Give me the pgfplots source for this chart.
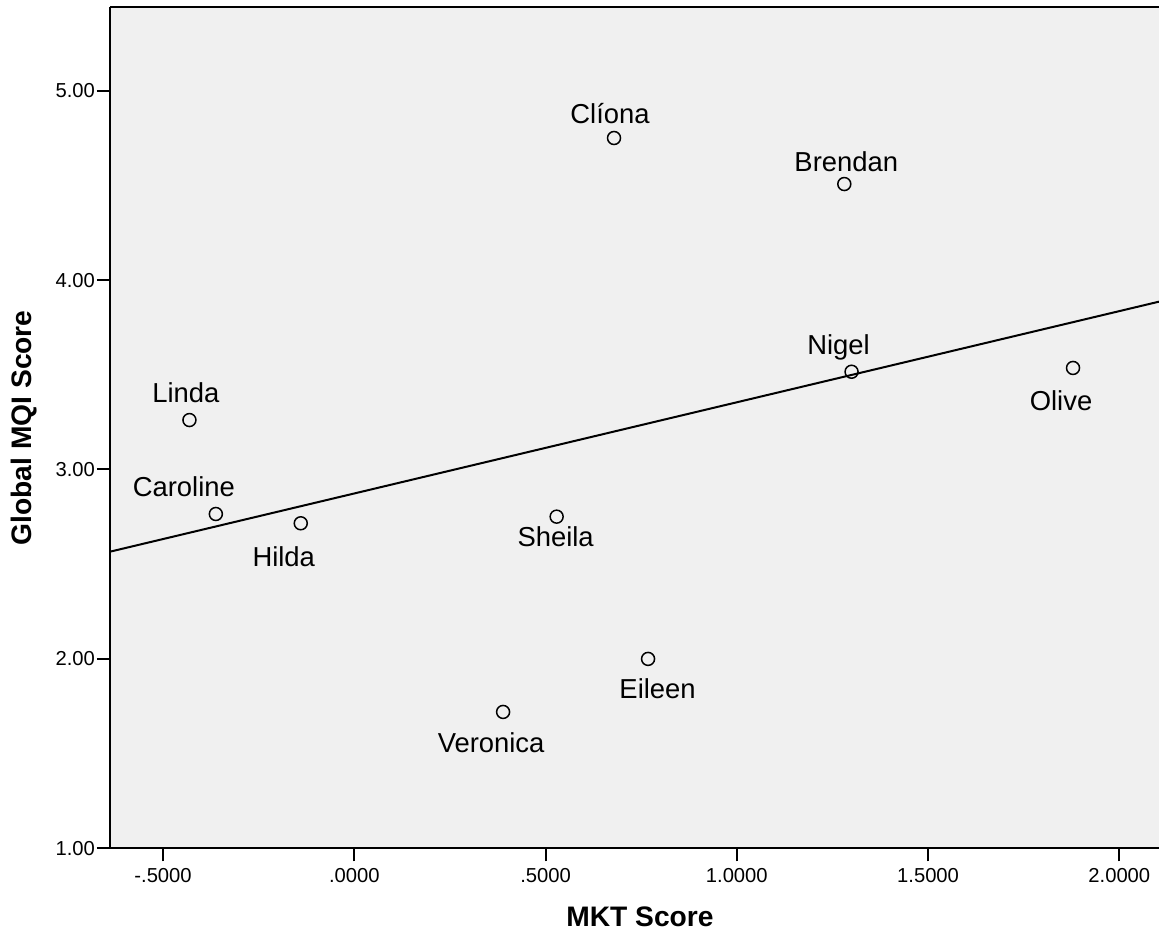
\documentclass[border=0pt]{standalone}
\usepackage{fontspec}
\setmainfont{Liberation Sans}
\usepackage{pgfplots}
\pgfplotsset{compat=1.18}
\usepackage{pgfplotstable}
\definecolor{bgc}{RGB}{240,240,240}

\pgfplotstableread{
x y label dx dy
0.679 4.750 Clíona -2 7.5
1.281 4.507 Brendan 1 6.25
1.300 3.516 Nigel -6.5 8.5
1.879 3.536 Olive -6 -21.5
-0.431 3.261 Linda -1.75 9
-0.362 2.765 Caroline -16 8.5
-0.140 2.716 Hilda -8.5 -21.5
0.529 2.751 Sheila -0.5 -14.75
0.768 2.000 Eileen 4.75 -20
0.389 1.720 Veronica -6 -20.5
}\pts

\begin{document}
\begin{tikzpicture}
\begin{axis}[
  scale only axis,
  width=524.5pt, height=420.4pt,
  xmin=-0.6387, xmax=2.1038,
  ymin=1, ymax=5.439,
  axis background/.style={fill=bgc},
  axis x line*=box, axis y line*=left,
  axis line style={line width=1pt, black},
  tick pos=left,
  tick align=outside,
  major tick length=6.5pt,
  every tick/.style={line width=1pt, black},
  xtick={-0.5,0,0.5,1,1.5,2},
  xticklabels={-.5000,.0000,.5000,1.0000,1.5000,2.0000},
  ytick={1,2,3,4,5},
  yticklabels={1.00,2.00,3.00,4.00,5.00},
  ticklabel style={font=\fontsize{10.1}{12}\selectfont},
  yticklabel style={xshift=2.5pt},
  xlabel={MKT Score},
  ylabel={Global MQI Score},
  every axis x label/.style={at={(axis description cs:0.50524,-0.0816)}, anchor=center, font=\fontsize{14.1}{16}\selectfont\bfseries},
  every axis y label/.style={at={(axis description cs:-0.082,0.5)}, anchor=center, rotate=90, font=\fontsize{14.1}{16}\selectfont\bfseries},
]
\addplot[black, line width=1pt] coordinates {(-0.6387,2.566) (2.1038,3.886)};
\addplot[only marks, mark=o, mark size=3.25pt, mark options={line width=0.75pt, black, fill=bgc},
  point meta=explicit symbolic,
  visualization depends on={\thisrow{dx}\as\dx},
  visualization depends on={\thisrow{dy}\as\dy},
  nodes near coords,
  nodes near coords style={anchor=base, inner sep=0pt, xshift=\dx pt, yshift=\dy pt, font=\fontsize{13.7}{16}\selectfont, black},
] table[x=x, y=y, meta=label] {\pts};
\coordinate (sw) at (rel axis cs:0,0);
\end{axis}
\pgfresetboundingbox
\path (sw) ++(-55pt,-42.85pt) rectangle ++(579.5pt,467pt);
\end{tikzpicture}
\end{document}
